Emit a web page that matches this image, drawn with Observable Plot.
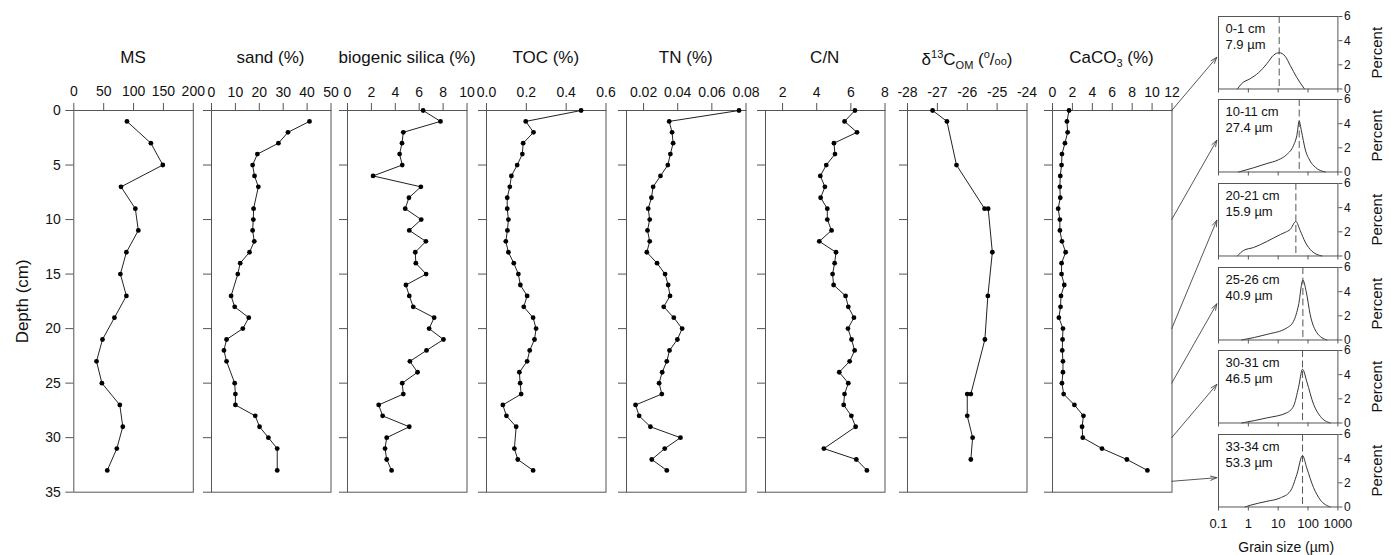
<!DOCTYPE html>
<html><head><meta charset="utf-8">
<script src="https://cdn.jsdelivr.net/npm/d3@7"></script>
<script src="https://cdn.jsdelivr.net/npm/@observablehq/plot@0.6"></script>
<style>
html,body{margin:0;padding:0;background:#fff;}
#chart{position:relative;width:1391px;height:555px;overflow:hidden;font-family:"Liberation Sans",Arial,sans-serif;color:#111;}
#chart svg{position:absolute;}
.ttl{position:absolute;top:49px;font-size:17px;line-height:1;white-space:nowrap;transform:translateX(-50%);}
.sm{font-size:11px;}
</style></head><body><div id="chart"></div>
<script>
// ---------- data ----------
const depthTicks = [0, 5, 10, 15, 20, 25, 30, 35];

const msDepth = [1,3,5,7,9,11,13,15,17,19,21,23,25,27,29,31,33];
const msValue = [89,129,149,79,103,108,88,78,88,68,48,38,47,77,82,72,56];

const sandDepth = [1,2,3,4,5,6,7,9,10,11,12,13,14,15,17,18,19,20,21,22,23,25,26,27,28,29,30,31,33];
const sandValue = [41,32,28,19.2,17.2,18,19.6,17.6,17.5,17.2,17.9,15.9,12,11,8.2,9.7,15.6,13.1,6.3,5.2,6.3,9.7,10,10,18.3,20.1,23.8,27.5,27.5];

const bsiDepth = [0,1,2,3,4,5,6,7,8,9,10,11,12,13,14,15,16,17,18,19,20,21,22,23,24,25,26,27,28,29,30,31,32,33];
const bsiValue = [6.33,7.78,4.67,4.56,4.36,4.58,2.14,6.14,5.14,4.83,6.17,5.17,6.56,5.67,5.72,6.58,4.89,5.17,5.5,7.25,6.83,8.03,6.61,5.22,5.86,4.58,4.67,2.61,2.94,5.17,3.28,3.14,3.28,3.69];

const tocDepth = [0,1,2,3,4,5,6,7,8,9,10,11,12,13,14,15,16,17,18,19,20,21,22,23,24,25,26,27,28,29,31,32,33];
const tocValue = [0.475,0.197,0.236,0.184,0.18,0.154,0.125,0.117,0.104,0.104,0.11,0.105,0.097,0.11,0.137,0.16,0.17,0.204,0.187,0.234,0.249,0.241,0.217,0.204,0.165,0.169,0.174,0.082,0.1,0.149,0.14,0.157,0.234];

const tnDepth = [0,1,2,3,4,5,6,7,8,9,10,11,12,13,14,15,16,17,18,19,20,21,22,23,24,25,26,27,28,29,30,31,32,33];
const tnValue = [0.0759,0.035,0.0367,0.0373,0.0357,0.0342,0.0299,0.0256,0.0246,0.0227,0.0236,0.0223,0.0236,0.0219,0.0279,0.0326,0.0344,0.0355,0.0318,0.0377,0.0426,0.0398,0.0352,0.0336,0.0309,0.0291,0.0307,0.0153,0.0174,0.024,0.0416,0.0324,0.0248,0.0336];

const cnDepth = [0,1,2,3,4,5,6,7,8,9,10,11,12,13,14,15,16,17,18,19,20,21,22,23,24,25,26,27,28,29,31,32,33];
const cnValue = [6.24,5.63,6.36,5.01,5.07,4.56,4.21,4.48,4.23,4.62,4.62,4.87,4.15,5.13,5.05,4.93,4.99,5.69,5.85,6.18,5.83,6.04,6.22,5.93,5.32,5.85,5.63,5.58,6.03,6.28,4.42,6.32,6.94];

const d13Depth = [0,1,5,9,9,13,17,21,26,26,28,30,32];
const d13Value = [-27.16,-26.68,-26.36,-25.42,-25.3,-25.16,-25.31,-25.41,-25.88,-26.0,-26.0,-25.82,-25.88];

const caDepth = [0,1,2,3,4,5,6,7,8,9,10,11,12,13,14,15,16,17,18,19,20,21,22,23,24,25,26,27,28,29,30,31,32,33];
const caValue = [1.66,1.45,1.52,1.25,0.95,0.91,0.78,0.74,0.78,0.57,0.74,0.74,0.95,1.32,0.91,0.91,1.18,0.85,0.81,0.64,1.05,1.01,0.98,1.05,1.05,0.95,1.12,2.2,3.11,2.97,3.04,4.97,7.47,9.53];

const panelTitles = ["MS", "sand (%)", "biogenic silica (%)", "TOC (%)", "TN (%)", "C/N",
  "δ<sup class='sm'>13</sup>C<sub class='sm'>OM</sub> (<sup class='sm'>o</sup>/<span class='sm'>oo</span>)",
  "CaCO<sub class='sm'>3</sub> (%)"];
const panelDomains = [[0,200],[0,50],[0,10],[0,0.6],[0.01,0.08],[1,8],[-28,-24],[0,12]];
const panelTicks = [[0,50,100,150,200],[0,10,20,30,40,50],[0,2,4,6,8,10],[0,0.2,0.4,0.6],[0.02,0.04,0.06,0.08],[2,4,6,8],[-28,-27,-26,-25,-24],[0,2,4,6,8,10,12]];
const panelDecimals = [0,0,0,1,2,0,0,0];
const panelDepths = [msDepth, sandDepth, bsiDepth, tocDepth, tnDepth, cnDepth, d13Depth, caDepth];
const panelValues = [msValue, sandValue, bsiValue, tocValue, tnValue, cnValue, d13Value, caValue];

// grain-size distributions
const gsLabels = ["0-1 cm","10-11 cm","20-21 cm","25-26 cm","30-31 cm","33-34 cm"];
const gsMeans = ["7.9 µm","27.4 µm","15.9 µm","40.9 µm","46.5 µm","53.3 µm"];
const gsModes = [10.8, 50.6, 39.1, 67.1, 65.4, 65.4];
const gsDepths = [0, 10, 20, 25, 30, 34];
const gsTicks = [0.1, 1, 10, 100, 1000];
const gsPctTicks = [0, 2, 4, 6];
const gsSize1 = [0.43,0.6,1.15,2.2,4.2,7.0,10.8,17.2,25.3,42,55,76];
const gsPct1  = [0,0.45,0.85,1.35,2.1,2.8,3.0,2.7,1.95,0.95,0.5,0];
const gsSize2 = [0.47,1.5,4.2,10,19.5,32.7,42,50.6,60,80,118,174,376];
const gsPct2  = [0,0.35,0.7,1.0,1.45,2.2,3.0,4.2,3.4,1.9,0.9,0.4,0];
const gsSize3 = [0.43,0.69,1.49,4.17,11.7,17.2,25.3,39.1,54.6,80.4,134,291];
const gsPct3  = [0,0.46,0.7,1.2,1.77,1.96,2.2,2.85,2.1,1.15,0.4,0];
const gsSize4 = [0.6,4.17,19.5,32.7,48.1,67.1,86.9,118,198,428];
const gsPct4  = [0,0.46,1.0,1.55,2.9,4.96,4.0,2.1,0.6,0];
const gsSize5 = [0.6,4.17,19.5,32.7,48.1,65.4,91.4,153,256,553];
const gsPct5  = [0,0.42,0.85,1.4,2.96,4.45,3.4,1.55,0.56,0];
const gsSize6 = [0.78,1.15,4.17,11.7,25.3,42.3,65.4,91.4,153,256,553];
const gsPct6  = [0,0.14,0.47,0.75,1.3,2.7,4.25,3.2,1.6,0.6,0];
const gsSizes = [gsSize1, gsSize2, gsSize3, gsSize4, gsSize5, gsSize6];
const gsPcts = [gsPct1, gsPct2, gsPct3, gsPct4, gsPct5, gsPct6];

// ---------- layout ----------
const H = 555, PW = 119.5, YT = 110, YB = 491.7;
const lefts = [73.3, 210.7, 347.3, 486, 626, 765, 907.3, 1051.7];
const GL = 1218.3, GW = 119.4, GT0 = 15.7, GSTEP = 83.6, GH = 72.5;
const arrowTargetPct = [2.6, 2.65, 2.95, 2.95, 3.2, 2.4];
const FONT = "Liberation Sans, Arial, sans-serif";
const baseStyle = {background: "transparent", overflow: "visible", fontFamily: FONT, fontSize: "13px", color: "#111"};

const chart = document.getElementById("chart");

function ap(s, v) {
  if (typeof s.apply === "function") return s.apply(v);
  const f = (s.type === "log" ? d3.scaleLog() : d3.scaleLinear()).domain(s.domain).range(s.range);
  return f(v);
}

const plots = panelTitles.map((title, i) => {
  const mL = i === 0 ? lefts[0] : 30, mR = 30;
  const rows = panelDepths[i].map((d, k) => ({depth: d, value: panelValues[i][k]}));
  const dec = panelDecimals[i];
  const marks = [
    Plot.frame({stroke: "#555"}),
    Plot.axisX({anchor: "top", ticks: panelTicks[i], tickFormat: d => dec ? d.toFixed(dec) : String(d),
      tickSize: 8, tickPadding: 6, stroke: "#555", label: null, fontSize: 14}),
    Plot.axisY({anchor: "left", ticks: depthTicks, tickSize: 8, tickPadding: 5, stroke: "#555", label: null,
      fontSize: 14, tickFormat: i === 0 ? d => String(d) : () => ""}),
    Plot.line(rows, {x: "value", y: "depth", stroke: "#222", strokeWidth: 1}),
    Plot.dot(rows, {x: "value", y: "depth", r: 2.4, fill: "#000", stroke: "none"})
  ];
  if (i === 0) marks.push(Plot.text(["Depth (cm)"], {text: d => d, frameAnchor: "left", rotate: -90, dx: -51,
    textAnchor: "middle", lineAnchor: "middle", fontSize: 17}));
  const svg = Plot.plot({
    width: mL + PW + mR, height: H,
    marginLeft: mL, marginRight: mR, marginTop: YT, marginBottom: H - YB,
    x: {domain: panelDomains[i]},
    y: {domain: [0, 35], reverse: true},
    style: {...baseStyle, fontSize: "14px"},
    marks
  });
  svg.style.left = (lefts[i] - mL) + "px";
  svg.style.top = "0px";
  chart.appendChild(svg);
  const t = document.createElement("div");
  t.className = "ttl";
  t.innerHTML = title;
  t.style.left = (lefts[i] + PW / 2) + "px";
  chart.appendChild(t);
  return svg;
});

const gsPlots = gsLabels.map((lab, i) => {
  const last = i === gsLabels.length - 1;
  const top = GT0 + i * GSTEP;
  const mL = 6, mR = 60, mT = 8, mB = last ? H - (top + GH) : 8;
  const rows = gsSizes[i].map((s, k) => ({size: s, pct: gsPcts[i][k]}));
  const marks = [
    Plot.ruleX([gsModes[i]], {x: d => d, stroke: "#555", strokeDasharray: "7,3.5"}),
    Plot.line(rows, {x: "size", y: "pct", curve: "monotone-x", stroke: "#333", strokeWidth: 1}),
    Plot.frame({stroke: "#555"}),
    Plot.axisY({anchor: "right", ticks: gsPctTicks, tickFormat: d => String(d), tickSize: 4, tickPadding: 2,
      stroke: "#555", label: null, fontSize: 12}),
    Plot.axisX({anchor: "bottom", ticks: gsTicks, tickSize: 4, tickPadding: 8, stroke: "#555", label: null, fontSize: 13,
      tickFormat: last ? d => String(d) : () => ""}),
    Plot.text([lab + "\n" + gsMeans[i]], {text: d => d, frameAnchor: "top-left", dx: 7, dy: 4.4, lineHeight: 1.26, fontSize: 13}),
    Plot.text(["Percent"], {text: d => d, frameAnchor: "right", rotate: -90, dx: 39, textAnchor: "middle", lineAnchor: "middle", fontSize: 15})
  ];
  if (last) marks.push(Plot.text(["Grain size (µm)"], {text: d => d, frameAnchor: "bottom", dx: 8, dy: 34.6, lineAnchor: "top", fontSize: 14}));
  const svg = Plot.plot({
    width: mL + GW + mR, height: mT + GH + mB,
    marginLeft: mL, marginRight: mR, marginTop: mT, marginBottom: mB,
    x: {type: "log", domain: [0.1, 1000]},
    y: {domain: [0, 6]},
    style: {...baseStyle, fontSize: last ? "13px" : "12px"},
    marks
  });
  svg.style.left = (GL - mL) + "px";
  svg.style.top = (top - mT) + "px";
  chart.appendChild(svg);
  return svg;
});

// connector arrows from CaCO3 depth to grain-size panels
const ca = plots[plots.length - 1];
const caX = ca.scale("x"), caY = ca.scale("y");
const caLeft = parseFloat(ca.style.left);
const arrowRows = gsDepths.map((d, i) => {
  const g = gsPlots[i];
  return {
    x1: caLeft + ap(caX, panelDomains[7][1]),
    y1: ap(caY, d),
    x2: parseFloat(g.style.left) + ap(g.scale("x"), gsTicks[0]) - 2,
    y2: parseFloat(g.style.top) + ap(g.scale("y"), arrowTargetPct[i])
  };
});
const ov = Plot.plot({
  width: 1391, height: H, margin: 0,
  x: {type: "identity", axis: null}, y: {type: "identity", axis: null},
  style: {background: "transparent", overflow: "visible", pointerEvents: "none"},
  marks: [Plot.arrow(arrowRows, {x1: "x1", y1: "y1", x2: "x2", y2: "y2", stroke: "#444", strokeWidth: 0.9, headLength: 11, headAngle: 38})]
});
ov.style.left = "0px"; ov.style.top = "0px";
chart.appendChild(ov);
</script></body></html>
